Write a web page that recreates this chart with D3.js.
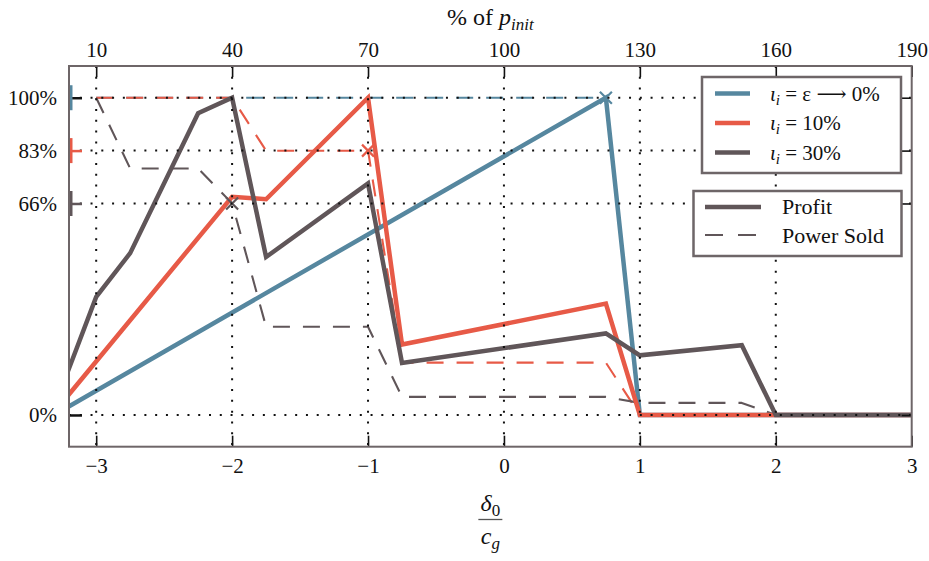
<!DOCTYPE html>
<html><head><meta charset="utf-8">
<script src="https://cdn.jsdelivr.net/npm/d3@7"></script>
<style>
html,body{margin:0;padding:0;background:#fff;}
svg text{font-family:"Liberation Serif","DejaVu Serif",serif;fill:#111;}
</style></head>
<body>
<svg id="chart" width="929" height="561"></svg>
<script>
// ---------- data ----------
const xTicks = [-3, -2, -1, 0, 1, 2, 3];
const xTickLabels = ["\u22123", "\u22122", "\u22121", "0", "1", "2", "3"];
const topTickLabels = ["10", "40", "70", "100", "130", "160", "190"];
const yTicks = [0, 2/3, 5/6, 1];
const yTickLabels = ["0%", "66%", "83%", "100%"];

const seriesNames = ["\u03b5 \u27f6 0%", "10%", "30%"];
const seriesColors = ["#56879f", "#e75a47", "#605659"];

// Profit (solid)
const profitX_eps = [-3.25, 0.75, 1, 3];
const profitY_eps = [0.015, 1.0, 0, 0];
const profitX_10 = [-3.25, -2, -1.75, -1, -0.75, 0.75, 1, 3];
const profitY_10 = [0.039, 0.688, 0.68, 1.0, 0.222, 0.351, 0, 0];
const profitX_30 = [-3.25, -3, -2.75, -2.25, -2, -1.75, -1, -0.75, 0.75, 1, 1.75, 2, 3];
const profitY_30 = [0.09, 0.372, 0.51, 0.951, 1.0, 0.498, 0.73, 0.164, 0.257, 0.188, 0.22, 0, 0];

// Power sold (dashed)
const soldX_eps = [-3, 0.75, 1, 3];
const soldY_eps = [1, 1, 0, 0];
const soldX_10 = [-3, -2, -1.75, -1, -0.75, 0.75, 1, 3];
const soldY_10 = [1, 1, 0.833, 0.833, 0.165, 0.165, 0, 0];
const soldX_30 = [-3, -2.75, -2.25, -2, -1.75, -1, -0.75, 0.75, 1, 1.75, 2, 3];
const soldY_30 = [1, 0.777, 0.777, 0.667, 0.278, 0.278, 0.057, 0.057, 0.038, 0.038, 0, 0];

// cross markers
const markX = [0.75, -1, -2];
const markY = [1.0, 5/6, 2/3];

// ---------- layout ----------
const svg = d3.select("#chart");
const L = 69, R = 911.7, T = 66, B = 446.7;
const x = d3.scaleLinear().domain([-3.2, 3]).range([L, R]);
const y = d3.scaleLinear().domain([-0.1, 1.1]).range([B, T]);

svg.append("defs").append("clipPath").attr("id", "clip")
  .append("rect").attr("x", L).attr("y", T).attr("width", R - L).attr("height", B - T);

const zip = (xs, ys) => xs.map((v, i) => [v, ys[i]]);
const line = d3.line().x(d => x(d[0])).y(d => y(d[1]));

const profits = [zip(profitX_eps, profitY_eps), zip(profitX_10, profitY_10), zip(profitX_30, profitY_30)];
const solds = [zip(soldX_eps, soldY_eps), zip(soldX_10, soldY_10), zip(soldX_30, soldY_30)];

const plot = svg.append("g").attr("clip-path", "url(#clip)");

solds.forEach((d, i) => {
  plot.append("path").datum(d).attr("d", line)
    .attr("fill", "none").attr("stroke", seriesColors[i])
    .attr("stroke-width", 2.1).attr("stroke-dasharray", "17,13")
    .attr("stroke-linejoin", "round");
});
profits.forEach((d, i) => {
  plot.append("path").datum(d).attr("d", line)
    .attr("fill", "none").attr("stroke", seriesColors[i])
    .attr("stroke-width", 4.5).attr("stroke-linejoin", "miter");
});
markX.forEach((mx, i) => {
  const cx = x(mx), cy = y(markY[i]), s = 6;
  plot.append("path")
    .attr("d", `M${cx - s},${cy - s}L${cx + s},${cy + s}M${cx - s},${cy + s}L${cx + s},${cy - s}`)
    .attr("stroke", seriesColors[i]).attr("stroke-width", 2.2).attr("fill", "none");
});

// ---------- grid (on top) ----------
const grid = svg.append("g");
xTicks.slice(0, 6).forEach(v => {
  grid.append("line").attr("x1", x(v)).attr("x2", x(v)).attr("y1", T).attr("y2", B)
    .attr("stroke", "#111").attr("stroke-width", 2).attr("stroke-dasharray", "2,8.77");
});
yTicks.forEach(v => {
  grid.append("line").attr("x1", L).attr("x2", R).attr("y1", y(v)).attr("y2", y(v))
    .attr("stroke", "#111").attr("stroke-width", 2).attr("stroke-dasharray", "2,8.77");
});

// ---------- axes ----------
const fontSize = 21;
const axB = svg.append("g").attr("transform", `translate(0,${B})`)
  .call(d3.axisBottom(x).tickValues(xTicks).tickSize(-11).tickPadding(11)
    .tickFormat((d, i) => xTickLabels[i]));
const axT = svg.append("g").attr("transform", `translate(0,${T})`)
  .call(d3.axisTop(x).tickValues(xTicks).tickSize(-11).tickPadding(9)
    .tickFormat((d, i) => topTickLabels[i]));
const axL = svg.append("g").attr("transform", `translate(${L},0)`)
  .call(d3.axisLeft(y).tickValues(yTicks).tickSize(-13).tickPadding(12)
    .tickFormat((d, i) => yTickLabels[i]));
const axR = svg.append("g").attr("transform", `translate(${R},0)`)
  .call(d3.axisRight(y).tickValues(yTicks).tickSize(-10).tickFormat(""));

[axB, axT, axL, axR].forEach(a => {
  a.select(".domain").remove();
  a.selectAll(".tick line").attr("stroke", "#111").attr("stroke-width", 1.6);
  a.selectAll(".tick text").attr("font-size", fontSize)
    .style("font-family", '"Liberation Serif", serif').attr("fill", "#111");
});
const tickColor = {0: "#111", 1: seriesColors[2], 2: seriesColors[1], 3: "#111"};
axL.selectAll(".tick line").attr("stroke", (d, i) => tickColor[i]).attr("stroke-width", 2.5);
const barVals = [1, 5/6, 2/3];
barVals.forEach((v, i) => {
  svg.append("line").attr("x1", L + 1.8).attr("x2", L + 1.8)
    .attr("y1", y(v) - 12.5).attr("y2", y(v) + 12.5)
    .attr("stroke", seriesColors[i]).attr("stroke-width", 3.4);
});

svg.append("rect").attr("x", L).attr("y", T).attr("width", R - L).attr("height", B - T)
  .attr("fill", "none").attr("stroke", "#6e6668").attr("stroke-width", 2);

// ---------- axis titles ----------
const cx = (L + R) / 2;
const topTitle = svg.append("text").attr("x", cx).attr("y", 25)
  .attr("text-anchor", "middle").attr("font-size", 24);
topTitle.append("tspan").text("% of ");
topTitle.append("tspan").attr("font-style", "italic").text("p");
topTitle.append("tspan").attr("font-style", "italic").attr("font-size", 17).attr("dy", 5).text("init");

const num = svg.append("text").attr("x", cx).attr("y", 511).attr("text-anchor", "middle").attr("font-size", 24);
num.append("tspan").attr("font-style", "italic").text("\u03b4");
num.append("tspan").attr("font-size", 17).attr("dy", 5).text("0");
svg.append("line").attr("x1", cx - 12).attr("x2", cx + 12).attr("y1", 519.5).attr("y2", 519.5)
  .attr("stroke", "#555").attr("stroke-width", 1.3);
const den = svg.append("text").attr("x", cx).attr("y", 544).attr("text-anchor", "middle").attr("font-size", 24);
den.append("tspan").attr("font-style", "italic").text("c");
den.append("tspan").attr("font-style", "italic").attr("font-size", 17).attr("dy", 5).text("g");

// ---------- legends ----------
const leg1 = svg.append("g");
leg1.append("rect").attr("x", 702).attr("y", 77).attr("width", 199).attr("height", 96)
  .attr("fill", "#fff").attr("stroke", "#6e6668").attr("stroke-width", 2.5);
seriesNames.forEach((nm, i) => {
  const ly = 93.5 + i * 29.5;
  leg1.append("line").attr("x1", 715).attr("x2", 750).attr("y1", ly).attr("y2", ly)
    .attr("stroke", seriesColors[i]).attr("stroke-width", 4.5);
  const t = leg1.append("text").attr("x", 770).attr("y", ly + 7).attr("font-size", fontSize);
  t.append("tspan").attr("font-style", "italic").text("\u03b9");
  t.append("tspan").attr("font-style", "italic").attr("font-size", 15).attr("dy", 4).text("i");
  t.append("tspan").attr("dy", -4).text(" = " + nm);
});

const leg2 = svg.append("g");
leg2.append("rect").attr("x", 693.5).attr("y", 191).attr("width", 208).attr("height", 65)
  .attr("fill", "#fff").attr("stroke", "#6e6668").attr("stroke-width", 2.5);
leg2.append("line").attr("x1", 705).attr("x2", 761).attr("y1", 207).attr("y2", 207)
  .attr("stroke", seriesColors[2]).attr("stroke-width", 4.5);
leg2.append("line").attr("x1", 705).attr("x2", 761).attr("y1", 235).attr("y2", 235)
  .attr("stroke", seriesColors[2]).attr("stroke-width", 2).attr("stroke-dasharray", "18,15");
leg2.append("text").attr("x", 782).attr("y", 214).attr("font-size", 22).text("Profit");
leg2.append("text").attr("x", 782).attr("y", 243).attr("font-size", 22).text("Power Sold");
</script>
</body></html>
